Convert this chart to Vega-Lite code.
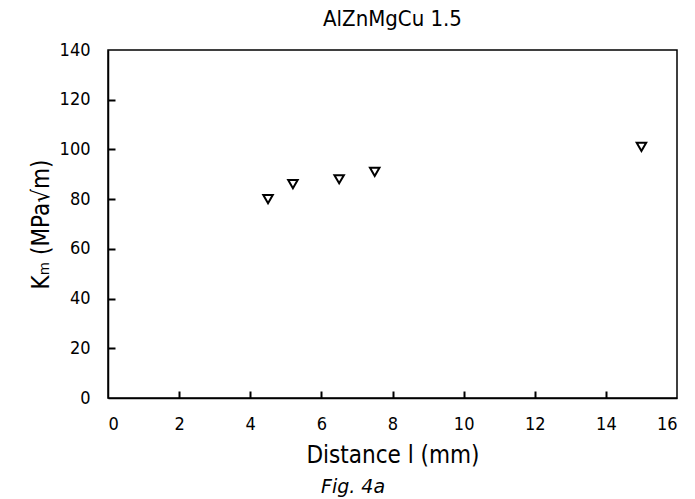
{
  "$schema": "https://vega.github.io/schema/vega-lite/v6.json",
  "background": "white",
  "padding": {"left": 28, "top": 7, "right": 5, "bottom": 2},
  "title": {
    "text": "Fig. 4a",
    "orient": "bottom",
    "anchor": "middle",
    "font": "DejaVu Sans",
    "fontSize": 19,
    "fontStyle": "italic",
    "fontWeight": "normal",
    "color": "black",
    "offset": 10
  },
  "config": {
    "font": "DejaVu Sans Condensed",
    "view": {"stroke": "black", "strokeWidth": 1.5},
    "axis": {
      "domainColor": "black",
      "domainWidth": 1.5,
      "tickColor": "black",
      "tickWidth": 2,
      "labelColor": "black",
      "titleColor": "black",
      "grid": false,
      "zindex": 2,
      "labelFont": "DejaVu Sans Condensed",
      "titleFont": "DejaVu Sans Condensed",
      "labelFontSize": 18,
      "titleFontSize": 24,
      "titleFontWeight": "normal"
    }
  },
  "vconcat": [
    {
      "width": 569,
      "height": 348,
      "title": {
        "text": "AlZnMgCu 1.5",
        "anchor": "middle",
        "font": "DejaVu Sans Condensed",
        "fontSize": 22,
        "fontWeight": "normal",
        "color": "black",
        "offset": 10
      },
      "data": {
        "values": [
          {"distance": 4.5, "km": 80},
          {"distance": 5.2, "km": 86},
          {"distance": 6.5, "km": 88},
          {"distance": 7.5, "km": 91},
          {"distance": 15.0, "km": 101}
        ]
      },
      "resolve": {"axis": {"x": "independent", "y": "independent"}},
      "layer": [
        {
          "mark": {
            "type": "point",
            "shape": "triangle-down",
            "filled": false,
            "stroke": "black",
            "strokeWidth": 2,
            "size": 90,
            "opacity": 1
          },
          "encoding": {
            "x": {
              "field": "distance",
              "type": "quantitative",
              "scale": {"domain": [0, 16], "nice": false},
              "axis": {
                "title": "Distance l (mm)",
                "values": [0, 2, 4, 6, 8, 10, 12, 14, 16],
                "ticks": false,
                "tickSize": 0,
                "labelPadding": 17,
                "titlePadding": 10
              }
            },
            "y": {
              "field": "km",
              "type": "quantitative",
              "scale": {"domain": [0, 140], "nice": false},
              "axis": {
                "title": "Kₘ (MPa√m)",
                "values": [0, 20, 40, 60, 80, 100, 120, 140],
                "ticks": false,
                "tickSize": 0,
                "labelPadding": 18,
                "titlePadding": 6
              }
            }
          }
        },
        {
          "mark": {"type": "point", "opacity": 0},
          "encoding": {
            "x": {
              "field": "distance",
              "type": "quantitative",
              "scale": {"domain": [0, 16], "nice": false},
              "axis": {
                "orient": "top",
                "offset": -348,
                "title": null,
                "labels": false,
                "domain": false,
                "values": [2, 4, 6, 8, 10, 12, 14],
                "ticks": true,
                "tickSize": 7
              }
            },
            "y": {
              "field": "km",
              "type": "quantitative",
              "scale": {"domain": [0, 140], "nice": false},
              "axis": {
                "orient": "right",
                "offset": -569,
                "title": null,
                "labels": false,
                "domain": false,
                "values": [20, 40, 60, 80, 100, 120],
                "ticks": true,
                "tickSize": 7
              }
            }
          }
        }
      ]
    }
  ]
}
